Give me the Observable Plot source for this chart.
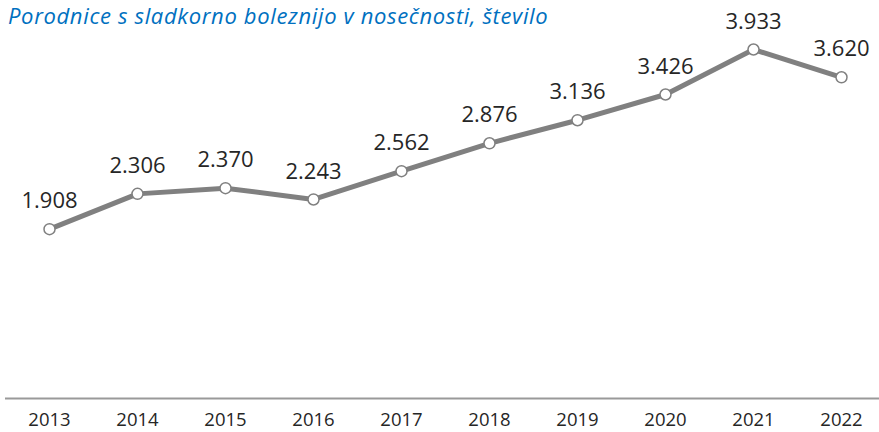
<!DOCTYPE html>
<html><head><meta charset="utf-8">
<script src="https://cdn.jsdelivr.net/npm/d3@7"></script>
<script src="https://cdn.jsdelivr.net/npm/@observablehq/plot@0.6"></script>
<style>
body{margin:0;background:#fff;}
#wrap{position:relative;width:879px;height:432px;}
#title{position:absolute;left:8px;top:0px;font-family:"Open Sans",sans-serif;font-style:italic;font-size:22px;color:#0070C0;letter-spacing:0.65px;white-space:nowrap;line-height:30px;}
</style></head>
<body><div id="wrap"><div id="title">Porodnice s sladkorno boleznijo v nosečnosti, število</div></div>
<script>
const years = ["2013","2014","2015","2016","2017","2018","2019","2020","2021","2022"];
const values = [1908, 2306, 2370, 2243, 2562, 2876, 3136, 3426, 3933, 3620];
const labels = ["1.908","2.306","2.370","2.243","2.562","2.876","3.136","3.426","3.933","3.620"];
const data = years.map((y,i)=>({year:y, value:values[i], label:labels[i]}));
const chart = Plot.plot({
  width: 879, height: 432,
  marginTop: 0, marginBottom: 0, marginLeft: 5, marginRight: 0,
  style: {fontFamily: "Open Sans, sans-serif", background: "transparent"},
  x: {type: "point", domain: years, range: [45, 844], padding: 0, axis: null},
  y: {domain: [0, 3933], range: [398, 49], axis: null},
  marks: [
    Plot.ruleY([0], {stroke: "#999999", strokeWidth: 2}),
    Plot.text(years, {x: d=>d, y: 0, dy: 22, text: d=>d, fontSize: 18.5, fill: "#262626"}),
    Plot.line(data, {x: "year", y: "value", stroke: "#808080", strokeWidth: 5}),
    Plot.dot(data, {x: "year", y: "value", r: 5.5, fill: "white", stroke: "#808080", strokeWidth: 1.5}),
    Plot.text(data, {x: "year", y: "value", text: "label", dy: -28, fontSize: 22, fill: "#262626"})
  ]
});
document.getElementById("wrap").appendChild(chart);
chart.style.position="absolute"; chart.style.left="0"; chart.style.top="0";
</script></body></html>
